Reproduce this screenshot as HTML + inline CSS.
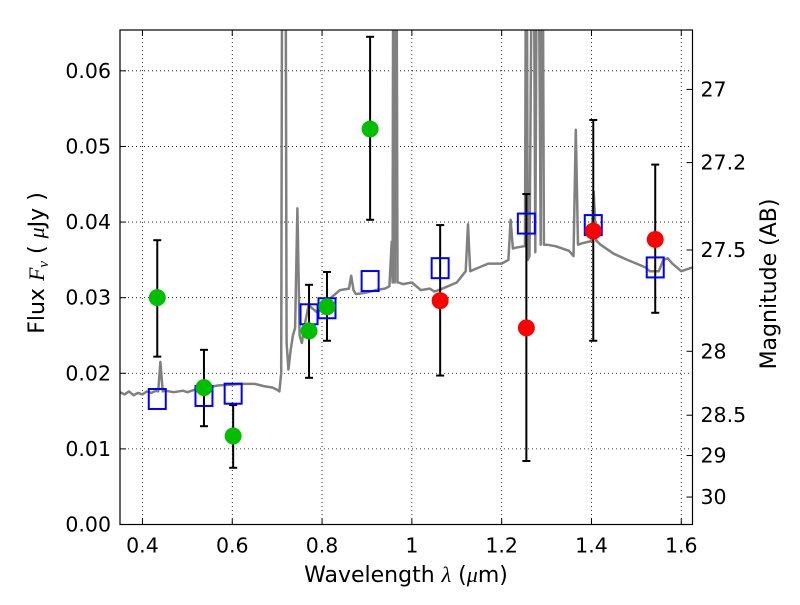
<!DOCTYPE html>
<html><head><meta charset="utf-8"><style>
body{margin:0;background:#fff}
svg{font-family:"DejaVu Sans","Liberation Sans",sans-serif}
</style></head><body>
<svg id="chart" width="800" height="600">
<g id="grid"></g>
<g id="plot"></g>
<g id="axes"></g>
</svg>
<script>
const xTicks=[0.4,0.6,0.8,1.0,1.2,1.4,1.6];
const xTickLabels=["0.4","0.6","0.8","1","1.2","1.4","1.6"];
const yTicks=[0,0.01,0.02,0.03,0.04,0.05,0.06];
const yTickLabels=["0.00","0.01","0.02","0.03","0.04","0.05","0.06"];
const magTicks=[27,27.2,27.5,28,28.5,29,30];
const magTickLabels=["27","27.2","27.5","28","28.5","29","30"];
const specWave=[0.35,0.36,0.37,0.38,0.39,0.4,0.41,0.42,0.43,0.435,0.44,0.445,0.45,0.47,0.49,0.5,0.52,0.54,0.55,0.57,0.6,0.62,0.65,0.67,0.69,0.7,0.705,0.709,0.712,0.715,0.718,0.721,0.725,0.73,0.735,0.74,0.745,0.75,0.755,0.76,0.77,0.78,0.79,0.8,0.81,0.82,0.84,0.86,0.865,0.87,0.875,0.88,0.9,0.92,0.94,0.95,0.955,0.957,0.959,0.962,0.965,0.968,0.97,0.98,1.0,1.02,1.04,1.05,1.06,1.08,1.1,1.12,1.125,1.13,1.15,1.17,1.2,1.215,1.22,1.225,1.23,1.25,1.252,1.255,1.258,1.262,1.27,1.275,1.28,1.287,1.29,1.294,1.3,1.32,1.35,1.36,1.365,1.37,1.38,1.4,1.405,1.41,1.42,1.45,1.48,1.5,1.52,1.53,1.55,1.56,1.57,1.58,1.6,1.625];
const specFlux=[0.0175,0.0172,0.0176,0.0171,0.0174,0.0172,0.0176,0.0174,0.0177,0.0176,0.0215,0.0176,0.0177,0.0175,0.0177,0.0175,0.0179,0.0181,0.0182,0.0184,0.0185,0.0186,0.0186,0.0183,0.0181,0.0178,0.0176,0.02,0.1,0.08,0.1,0.024,0.0205,0.023,0.025,0.026,0.0418,0.025,0.024,0.026,0.029,0.0285,0.028,0.029,0.0295,0.030,0.031,0.0312,0.0329,0.031,0.0305,0.0305,0.0307,0.031,0.0312,0.0315,0.0374,0.032,0.1,0.032,0.1,0.032,0.032,0.0318,0.032,0.031,0.0312,0.0308,0.031,0.0315,0.032,0.0335,0.0397,0.0335,0.034,0.0345,0.0345,0.035,0.0403,0.0365,0.0366,0.0368,0.0368,0.1,0.035,0.0355,0.1,0.036,0.1,0.037,0.1,0.037,0.037,0.0368,0.0362,0.0355,0.0522,0.037,0.0372,0.0375,0.044,0.0376,0.037,0.0358,0.035,0.0345,0.034,0.0335,0.0335,0.035,0.0352,0.0345,0.0335,0.034];
const photWave=[0.433,0.537,0.602,0.771,0.811,0.907,1.063,1.255,1.404,1.542];
const photFlux=[0.0300,0.0181,0.0117,0.0256,0.0288,0.0523,0.0296,0.0260,0.0388,0.0377];
const photErrHi=[0.0376,0.0231,0.0158,0.0317,0.0334,0.0645,0.0396,0.0437,0.0535,0.0476];
const photErrLo=[0.0222,0.0130,0.0075,0.0194,0.0243,0.0403,0.0197,0.0084,0.0243,0.0280];
const photColor=["#00bf00","#00bf00","#00bf00","#00bf00","#00bf00","#00bf00","#ff0000","#ff0000","#ff0000","#ff0000"];
const modelFlux=[0.0166,0.0170,0.0173,0.0278,0.0286,0.0322,0.0339,0.0398,0.0396,0.0340];

const L=120,R=692.5,T=30,B=524.5,X0=0.35,X1=1.625,Y0=0,Y1=0.0654;
const sx=v=>L+(v-X0)/(X1-X0)*(R-L);
const sy=v=>B-(v-Y0)/(Y1-Y0)*(B-T);
const NS="http://www.w3.org/2000/svg";
function mk(tag,attrs,parent){const e=document.createElementNS(NS,tag);for(const k in attrs)e.setAttribute(k,attrs[k]);parent.appendChild(e);return e;}
const grid=document.getElementById('grid'),plot=document.getElementById('plot'),axes=document.getElementById('axes');
xTicks.forEach((v,i)=>{
 const g=mk('line',{x1:sx(v),x2:sx(v),y1:T,y2:B,stroke:'#000','stroke-width':0.8,'stroke-dasharray':'1,3'},grid);
 
 
 mk('line',{x1:sx(v),x2:sx(v),y1:B,y2:B-6,stroke:'#000'},axes);
 mk('line',{x1:sx(v),x2:sx(v),y1:T,y2:T+6,stroke:'#000'},axes);
 const t=mk('text',{x:sx(v),y:B+28,'text-anchor':'middle','font-size':20.5},axes);t.textContent=xTickLabels[i];
 
 
});
yTicks.forEach((v,i)=>{
 if(v>0){const g=mk('line',{x1:L,x2:R,y1:sy(v),y2:sy(v),stroke:'#000','stroke-width':0.8,'stroke-dasharray':'1,3'},grid);
 
 }
 mk('line',{x1:L,x2:L+6,y1:sy(v),y2:sy(v),stroke:'#000'},axes);
 const t=mk('text',{x:L-9,y:sy(v)+7,'text-anchor':'end','font-size':20.5},axes);t.textContent=yTickLabels[i];
 
 
});
magTicks.forEach((m,i)=>{
 const f=Math.pow(10,(23.9-m)/2.5);const y=sy(f);
 mk('line',{x1:R,x2:R-6,y1:y,y2:y,stroke:'#000'},axes);
 const t=mk('text',{x:R+8,y:y+7,'font-size':20.5},axes);t.textContent=magTickLabels[i];
 
 
});
const cp=mk('clipPath',{id:'clip'},plot);mk('rect',{x:L,y:T,width:R-L,height:B-T},cp);
let d='';specWave.forEach((w,i)=>{d+=(i?'L':'M')+sx(w).toFixed(1)+','+sy(specFlux[i]).toFixed(1);});
const sp=mk('path',{d:d,fill:'none',stroke:'#808080','stroke-width':2.5,'clip-path':'url(#clip)','stroke-linejoin':'round'},plot);


photWave.forEach((w,i)=>{
 const x=sx(w);
 const eb=mk('g',{},plot);
 
 
 mk('line',{x1:x,x2:x,y1:sy(photErrHi[i]),y2:sy(photErrLo[i]),stroke:'#000','stroke-width':2},eb);
 mk('line',{x1:x-4,x2:x+4,y1:sy(photErrHi[i]),y2:sy(photErrHi[i]),stroke:'#000','stroke-width':2},eb);
 mk('line',{x1:x-4,x2:x+4,y1:sy(photErrLo[i]),y2:sy(photErrLo[i]),stroke:'#000','stroke-width':2},eb);
 const sq=mk('rect',{x:x-8.5,y:sy(modelFlux[i])-10,width:17,height:20,fill:'none',stroke:'#0000ff','stroke-width':2},plot);
 
 
 const c=mk('circle',{cx:x,cy:sy(photFlux[i]),r:8.5,fill:photColor[i]},plot);
 
 
});
const fr=mk('rect',{x:L,y:T,width:R-L,height:B-T,fill:'none',stroke:'#000','stroke-width':1.2},axes);


const xl=mk('text',{x:406,y:582,'text-anchor':'middle','font-size':22},axes);
xl.innerHTML='Wavelength  <tspan font-style="italic" font-family="Liberation Serif, serif">λ</tspan> (<tspan font-style="italic" font-family="Liberation Serif, serif">μ</tspan>m)';


const yl=mk('text',{transform:'translate(44,263) rotate(-90)','text-anchor':'middle','font-size':22},axes);
yl.innerHTML='Flux  <tspan font-style="italic" font-family="Liberation Serif, serif">F</tspan><tspan font-style="italic" font-family="Liberation Serif, serif" font-size="15" dy="4">ν</tspan><tspan dy="-4">  (  </tspan><tspan font-style="italic" font-family="Liberation Serif, serif">μ</tspan>Jy )';


const rl=mk('text',{transform:'translate(776,284) rotate(-90)','text-anchor':'middle','font-size':22},axes);
rl.textContent='Magnitude (AB)';


</script>
</body></html>
